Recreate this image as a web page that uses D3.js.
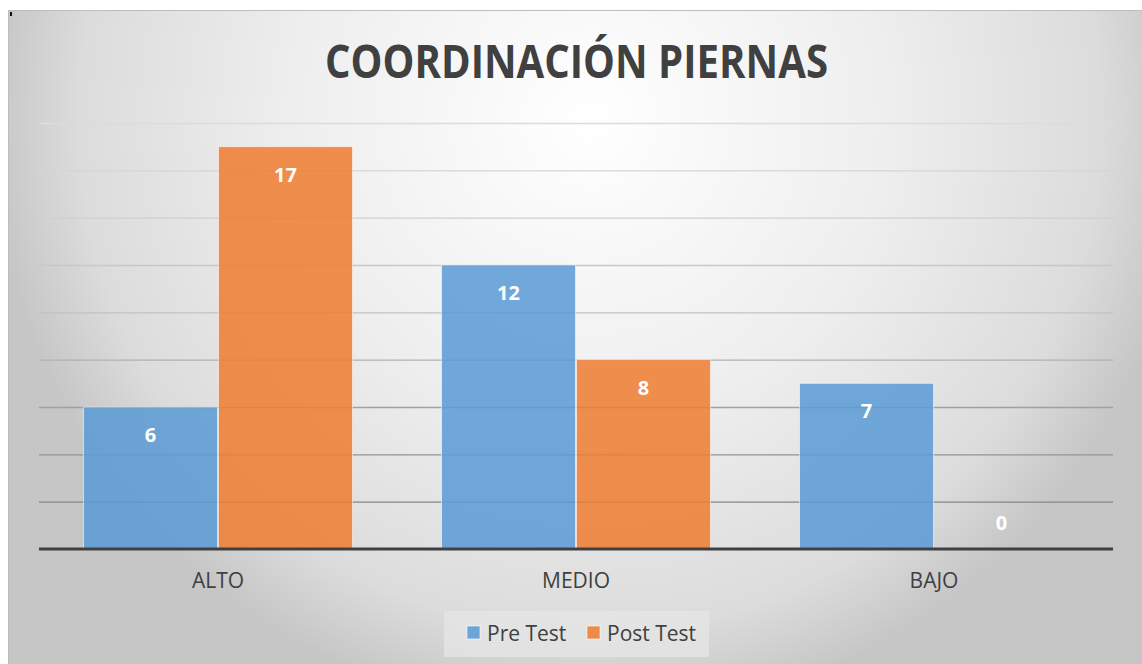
<!DOCTYPE html>
<html><head><meta charset="utf-8">
<script src="https://cdn.jsdelivr.net/npm/d3@7"></script>
<style>html,body{margin:0;padding:0;background:#fff;}svg{display:block;}</style>
</head><body>
<script>
const title = "COORDINACIÓN PIERNAS";
const categories = ["ALTO", "MEDIO", "BAJO"];
const seriesNames = ["Pre Test", "Post Test"];
const preTest = [6, 12, 7];
const postTest = [17, 8, 0];
const yTicks = [0, 2, 4, 6, 8, 10, 12, 14, 16, 18];
const colors = ["#5b9bd5", "#ed7d31"];

const W = 1142, H = 664;
const svg = d3.select("body").append("svg").attr("width", W).attr("height", H);
const defs = svg.append("defs");
const rg = defs.append("radialGradient").attr("id", "bg")
  .attr("gradientUnits", "userSpaceOnUse").attr("cx", 590).attr("cy", 120).attr("r", 600);
[[0, "#ffffff"], [0.5, "#eeeeee"], [0.85, "#dcdcdc"], [1, "#c6c6c6"]].forEach(([o, c]) =>
  rg.append("stop").attr("offset", o).attr("stop-color", c));

svg.append("rect").attr("x", 8.5).attr("y", 10.5).attr("width", W).attr("height", H)
  .attr("fill", "url(#bg)").attr("stroke", "#bdbdbd").attr("stroke-width", 1);
svg.append("rect").attr("x", 10).attr("y", 12).attr("width", 2).attr("height", 4).attr("fill", "#111");

const font = "'Open Sans', sans-serif";
svg.append("text").attr("x", 576.5).attr("y", 78).attr("text-anchor", "middle")
  .attr("font-family", font).attr("font-weight", 700).attr("font-size", 46)
  .attr("fill", "#404040").attr("textLength", 503).attr("lengthAdjust", "spacingAndGlyphs")
  .text(title);

const x0 = d3.scaleBand().domain(categories).range([39, 1113]).paddingInner(0.246).paddingOuter(0.123);
const x1 = d3.scaleBand().domain(seriesNames).range([0, x0.bandwidth()]).padding(0);
const y = d3.scaleLinear().domain([0, 18]).range([549, 123]);
const gridColor = d3.scaleLinear().domain([123, 312, 407, 501]).range(["#dcdcdc", "#c2c2c2", "#a0a0a0", "#868686"]).clamp(true);

const yAxis = d3.axisLeft(y).tickValues(yTicks.filter(t => t > 0)).tickSize(-(1113 - 39)).tickFormat("");
const gy = svg.append("g").attr("transform", "translate(39,0)").call(yAxis);
gy.select(".domain").remove();
gy.selectAll(".tick line").attr("stroke", d => gridColor(y(d))).attr("stroke-width", 1.3);

const data = categories.map((c, i) => ({ cat: c, vals: [preTest[i], postTest[i]] }));
const groups = svg.append("g").selectAll("g").data(data).join("g")
  .attr("transform", d => `translate(${x0(d.cat)},0)`);
groups.selectAll("rect").data(d => d.vals.map((v, j) => ({ v, j })))
  .join("rect")
  .attr("x", d => x1(seriesNames[d.j]) + 0.5)
  .attr("width", x1.bandwidth() - 1)
  .attr("y", d => y(d.v))
  .attr("height", d => y(0) - y(d.v))
  .attr("fill", d => colors[d.j]).attr("fill-opacity", 0.86)
  .attr("stroke", "rgba(255,255,255,0.55)").attr("stroke-width", 1);
groups.selectAll("text").data(d => d.vals.map((v, j) => ({ v, j })))
  .join("text")
  .attr("x", d => x1(seriesNames[d.j]) + x1.bandwidth() / 2)
  .attr("y", d => d.v > 0 ? y(d.v) + 28 : y(0) - 26)
  .attr("dy", "0.35em").attr("text-anchor", "middle")
  .attr("font-family", font).attr("font-weight", 700).attr("font-size", 20).attr("fill", "#ffffff")
  .text(d => d.v);

const xAxis = d3.axisBottom(x0).tickSize(0).tickPadding(0);
const gx = svg.append("g").attr("transform", "translate(0,549)").call(xAxis);
gx.select(".domain").remove();
svg.append("line").attr("x1", 39).attr("x2", 1113).attr("y1", y(0)).attr("y2", y(0))
  .attr("stroke", "#404040").attr("stroke-width", 3);
gx.selectAll(".tick text").attr("y", 39).attr("dy", 0)
  .attr("font-family", font).attr("font-size", 21).attr("fill", "#404040");

// legend
const lg = svg.append("g");
lg.append("rect").attr("x", 444).attr("y", 611).attr("width", 265).attr("height", 46)
  .attr("fill", "#e6e6e6").attr("fill-opacity", 0.75);
const lx = [467, 587];
seriesNames.forEach((s, i) => {
  lg.append("rect").attr("x", lx[i]).attr("y", 626).attr("width", 13).attr("height", 13)
    .attr("fill", colors[i]).attr("fill-opacity", 0.86).attr("stroke", "rgba(255,255,255,0.6)");
  lg.append("text").attr("x", lx[i] + 20).attr("y", 641).attr("font-family", font)
    .attr("font-size", 21).attr("fill", "#404040").text(s);
});
</script>
</body></html>
